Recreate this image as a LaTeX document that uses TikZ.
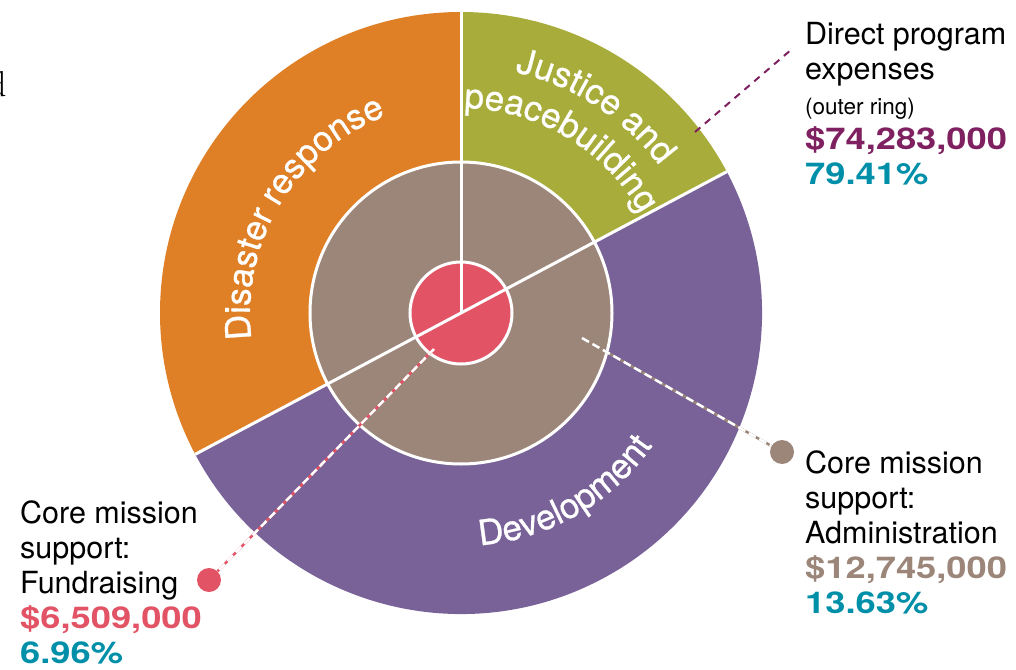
\documentclass[tikz,border=0pt]{standalone}
\usepackage{fontspec}
\setsansfont{TeX Gyre Heros}
\usetikzlibrary{decorations.text}

\definecolor{disasterorange}{RGB}{224,128,38}
\definecolor{justicegreen}{RGB}{168,172,58}
\definecolor{developpurple}{RGB}{120,98,152}
\definecolor{admintaupe}{RGB}{156,134,121}
\definecolor{fundred}{RGB}{226,83,101}
\definecolor{directplum}{RGB}{127,33,96}
\definecolor{pctteal}{RGB}{0,143,168}

\newcommand{\ringfont}{\sffamily\addfontfeatures{LetterSpace=-3,FakeBold=0.8}\fontsize{35}{35}\selectfont}
\newcommand{\ringwidefont}{\sffamily\addfontfeatures{LetterSpace=1,FakeBold=0.8}\fontsize{35}{35}\selectfont}
\newcommand{\labelfont}{\sffamily\fontsize{30.5}{35}\selectfont}
\newcommand{\amount}[2]{\scalebox{1.21}[1]{\bfseries\fontsize{30}{35}\selectfont\color{#1}#2}}

\tikzset{
  divider/.style={white, line width=3pt},
  ringlabel/.style={decorate, decoration={text along path, text align=center,
      text color=white, text={#1}}},
  leaderdot/.style={circle, fill=#1, minimum size=24pt, inner sep=0pt},
  infotext/.style={anchor=base west, align=left, inner sep=0pt, font=\labelfont},
}

\begin{document}
\begin{tikzpicture}[x=1pt,y=1pt]
  \useasboundingbox (-461,-356) rectangle (555,313);

  \coordinate (c) at (0,0);

  % outer ring
  \fill [disasterorange] (c) -- (90:301) arc [start angle=90, end angle=208, radius=301] -- cycle;
  \fill [justicegreen] (c) -- (28:301) arc [start angle=28, end angle=90, radius=301] -- cycle;
  \fill [developpurple] (c) -- (208:301) arc [start angle=208, end angle=388, radius=301] -- cycle;

  % inner rings
  \draw [white, line width=3pt, fill=admintaupe] (c) circle [radius=151];
  \draw [white, line width=3pt, fill=fundred] (c) circle [radius=51];

  \draw [divider] (c) -- (90:301);
  \draw [divider] (208:301) -- (28:301);

  % ring labels
  \path [ringlabel={|\ringfont|Disaster response}]
    (194:211) arc [start angle=194, end angle=104, radius=211];
  \path [ringlabel={|\ringfont|Justice and}]
    (87:247) arc [start angle=87, end angle=27, radius=247];
  \path [ringlabel={|\ringfont|peacebuilding}]
    (97:205) arc [start angle=97, end angle=21, radius=205];
  \path [ringlabel={|\ringwidefont|Development}]
    (-102:233) arc [start angle=-102, end angle=-18, radius=233];

  % leaders
  \coordinate (directstart) at (234,181);
  \coordinate (directend) at (331,264);
  \draw [directplum, line width=2pt, dash pattern=on 7pt off 6pt] (directstart) -- (directend);

  \coordinate (adminstart) at (121,-25);
  \node [leaderdot=admintaupe] (admindot) at (321,-139) {};
  \draw [admintaupe, line width=2.5pt] (adminstart) -- (admindot);
  \draw [white, line width=2.5pt, dash pattern=on 8pt off 4pt] (adminstart) -- (admindot);

  \coordinate (fundstart) at (-27,-36);
  \node [leaderdot=fundred] (funddot) at (-252,-267) {};
  \draw [fundred, line width=2.5pt] (fundstart) -- (funddot);
  \draw [white, line width=2.5pt, dash pattern=on 8pt off 4pt] (fundstart) -- (funddot);

  % texts
  \node [infotext] (directlabel) at (344,128) {Direct program\\ expenses\\
    {\fontsize{22.5}{24}\selectfont (outer ring)}\\
    \amount{directplum}{\$74,283,000}\\ \amount{pctteal}{79.41\%}};
  \node [infotext] (adminlabel) at (344,-300) {Core mission\\ support:\\ Administration\\
    \amount{admintaupe}{\$12,745,000}\\ \amount{pctteal}{13.63\%}};
  \node [infotext] (fundlabel) at (-441,-350) {Core mission\\ support:\\ Fundraising\\
    \amount{fundred}{\$6,509,000}\\ \amount{pctteal}{6.96\%}};

  \node [anchor=base east, inner sep=0pt, font=\fontsize{36}{36}\selectfont] (edge) at (-454,216) {d};
\end{tikzpicture}
\end{document}
